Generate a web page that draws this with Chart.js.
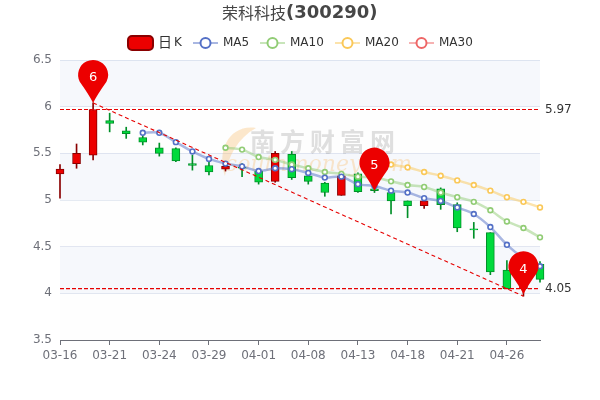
<!DOCTYPE html>
<html>
<head>
<meta charset="utf-8">
<script src="https://cdn.jsdelivr.net/npm/chart.js@4/dist/chart.umd.min.js"></script>
<style>
html, body { margin: 0; padding: 0; background: #fff; }
canvas { display: block; }
</style>
</head>
<body>
<canvas id="kChart" width="600" height="400"></canvas>
<script>
const dates = ['03-16','03-17','03-18','03-21','03-22','03-23','03-24','03-25','03-28','03-29',
    '03-30','03-31','04-01','04-06','04-07','04-08','04-11','04-12','04-13','04-14',
    '04-15','04-18','04-19','04-20','04-21','04-22','04-25','04-26','04-27','04-28']

const open  = [5.28,5.39,5.48,5.85,5.74,5.67,5.56,5.55,5.39,5.37,5.33,5.35,5.31,5.20,5.49,5.26,5.18,5.05,5.28,5.12,5.08,4.99,4.94,5.12,4.95,4.69,4.65,4.25,4.05,4.31]
const close = [5.33,5.50,5.97,5.82,5.71,5.62,5.50,5.42,5.37,5.30,5.36,5.34,5.19,5.50,5.24,5.20,5.08,5.26,5.09,5.10,4.99,4.94,4.99,4.95,4.70,4.68,4.23,4.05,4.25,4.15]
const high  = [5.38,5.60,6.04,5.93,5.78,5.69,5.61,5.56,5.48,5.42,5.40,5.39,5.32,5.52,5.52,5.30,5.19,5.28,5.29,5.16,5.10,4.99,5.01,5.13,4.97,4.76,4.65,4.35,4.30,4.34]
const low   = [5.02,5.34,5.43,5.73,5.66,5.59,5.47,5.41,5.32,5.27,5.31,5.25,5.17,5.19,5.22,5.17,5.04,5.05,5.08,5.08,4.85,4.81,4.91,4.90,4.66,4.59,4.20,4.05,3.97,4.12]

const ma5  = [null,null,null,null,null,5.72,5.72,5.62,5.52,5.44,5.39,5.36,5.31,5.34,5.33,5.29,5.24,5.25,5.17,5.15,5.10,5.08,5.02,4.99,4.92,4.85,4.71,4.52,4.38,4.29]
const ma10 = [null,null,null,null,null,null,null,null,null,null,5.56,5.54,5.46,5.43,5.38,5.34,5.30,5.28,5.25,5.24,5.20,5.16,5.14,5.08,5.03,4.98,4.89,4.77,4.70,4.60]
const ma20 = [null,null,null,null,null,null,null,null,null,null,null,null,null,null,null,null,null,null,null,5.43,5.38,5.35,5.30,5.26,5.21,5.16,5.10,5.03,4.98,4.92]
const ma30 = dates.map(() => null)

const yTicks = [3.5,4,4.5,5,5.5,6,6.5]
const maxLine = dates.map(() => 5.97)
const minLine = dates.map(() => 4.05)
const trendLine = dates.map((d, i) => i === 2 ? 6.04 : i === 28 ? 3.97 : null)

const pinIndex = [2,19,28]
const pinValue = [6.04,5.10,3.99]
const pinLabel = ['6','5','4']

const RED = '#ec0000', RED_DARK = '#8a0000'
const GREEN = '#00da3c', GREEN_DARK = '#008f28'
const MA_COLORS = { MA5: '#5470c6', MA10: '#91cc75', MA20: '#fac858', MA30: '#ee6666' }
const FONT = '"DejaVu Sans", sans-serif'

function isUp(i) { return close[i] >= open[i] }

function maDataset(label, data) {
    return {
        type: 'line', label, data, order: 3,
        borderColor: MA_COLORS[label] + '80',
        borderWidth: 2.5,
        tension: 0.3,
        pointRadius: 2.4,
        pointBorderWidth: 1.6,
        pointBackgroundColor: '#fff',
        pointBorderColor: MA_COLORS[label]
    }
}

function dashDataset(data, spanGaps, dash) {
    return {
        type: 'line', data, order: 2, spanGaps,
        borderColor: '#e60000', borderWidth: 1.1, borderDash: dash,
        pointRadius: 0, tension: 0
    }
}

// plot bands, watermark
const backdrop = {
    id: 'backdrop',
    beforeDatasetsDraw(chart) {
        const { ctx, chartArea: a, scales: { y } } = chart
        ctx.save()
        for (let i = 0; i < yTicks.length - 1; i++) {
            const top = y.getPixelForValue(yTicks[i + 1]), bottom = y.getPixelForValue(yTicks[i])
            ctx.fillStyle = i % 2 ? 'rgba(210,219,238,0.2)' : 'rgba(250,250,250,0.2)'
            ctx.fillRect(a.left, top, a.right - a.left, bottom - top)
        }

        // logo crescent
        ctx.fillStyle = 'rgba(250,190,110,0.35)'
        ctx.beginPath()
        ctx.moveTo(256, 128)
        ctx.bezierCurveTo(230, 124, 216, 150, 225, 176)
        ctx.bezierCurveTo(228, 156, 238, 138, 256, 128)
        ctx.fill()

        ctx.textBaseline = 'middle'
        ctx.textAlign = 'left'
        ctx.fillStyle = 'rgba(120,120,120,0.24)'
        ctx.font = 'bold 25px "Noto Sans CJK SC"'
        ctx.letterSpacing = '5px'
        ctx.fillText('南方财富网', 250, 141)
        ctx.letterSpacing = '0px'
        ctx.fillStyle = 'rgba(250,190,110,0.35)'
        ctx.font = 'italic 22px "DejaVu Serif", serif'
        ctx.fillText('southmoney.com', 226, 165)
        ctx.restore()
    }
}

// title, legend, mark point pins and line end labels
const overlay = {
    id: 'overlay',
    afterDraw(chart) {
        const { ctx, scales: { x, y } } = chart
        ctx.save()
        ctx.textBaseline = 'middle'

        ctx.fillStyle = '#464646'
        ctx.textAlign = 'left'
        ctx.font = '16px "Noto Sans CJK SC"'
        ctx.fillText('荣科科技', 222, 13)
        ctx.font = 'bold 18px ' + FONT
        ctx.fillText('(300290)', 286, 13)

        // legend
        ctx.fillStyle = RED
        ctx.strokeStyle = RED_DARK
        ctx.lineWidth = 2
        ctx.beginPath()
        ctx.roundRect(128, 36, 25, 14, 4)
        ctx.fill()
        ctx.stroke()
        ctx.fillStyle = '#333'
        ctx.font = '14px "Noto Sans CJK SC"'
        ctx.fillText('日', 158, 42)
        ctx.font = '12px ' + FONT
        ctx.fillText('K', 174, 43)
        const items = [['MA5', 193], ['MA10', 260], ['MA20', 335], ['MA30', 409]]
        items.forEach(([name, lx]) => {
            const c = MA_COLORS[name]
            ctx.strokeStyle = c + '80'
            ctx.lineWidth = 2
            ctx.beginPath()
            ctx.moveTo(lx, 43)
            ctx.lineTo(lx + 25, 43)
            ctx.stroke()
            ctx.strokeStyle = c
            ctx.fillStyle = '#fff'
            ctx.beginPath()
            ctx.arc(lx + 12.5, 43, 5, 0, Math.PI * 2)
            ctx.fill()
            ctx.stroke()
            ctx.fillStyle = '#333'
            ctx.fillText(name, lx + 30, 43)
        })

        // mark line labels
        ctx.fillStyle = '#333'
        ctx.font = '12px ' + FONT
        ctx.fillText('5.97', 545, y.getPixelForValue(5.97))
        ctx.fillText('4.05', 545, y.getPixelForValue(4.05))

        // pins
        pinIndex.forEach((idx, k) => {
            const px = x.getPixelForValue(idx), tip = y.getPixelForValue(pinValue[k])
            const r = 15, cy = tip - 28
            ctx.fillStyle = RED
            ctx.beginPath()
            ctx.arc(px, cy, r, Math.PI * 0.85, Math.PI * 0.15)
            ctx.quadraticCurveTo(px + 4, cy + 20, px, tip)
            ctx.quadraticCurveTo(px - 4, cy + 20, px - r * Math.cos(Math.PI * 0.15), cy + r * Math.sin(Math.PI * 0.15))
            ctx.fill()
            ctx.fillStyle = '#fff'
            ctx.textAlign = 'center'
            ctx.font = '13px ' + FONT
            ctx.fillText(pinLabel[k], px, cy + 3)
        })
        ctx.restore()
    }
}

new Chart(document.getElementById('kChart'), {
    type: 'bar',
    data: {
        labels: dates,
        datasets: [
            {
                label: 'wick', order: 6, grouped: false, clip: false,
                data: dates.map((d, i) => [low[i], high[i]]),
                barThickness: 1,
                backgroundColor: dates.map((d, i) => isUp(i) ? RED_DARK : GREEN_DARK)
            },
            {
                label: '日 K', order: 5, grouped: false, clip: false,
                data: dates.map((d, i) => [open[i], close[i]]),
                barThickness: 8,
                borderWidth: 1,
                borderSkipped: false,
                backgroundColor: dates.map((d, i) => isUp(i) ? RED : GREEN),
                borderColor: dates.map((d, i) => isUp(i) ? RED_DARK : GREEN_DARK)
            },
            maDataset('MA5', ma5),
            maDataset('MA10', ma10),
            maDataset('MA20', ma20),
            maDataset('MA30', ma30),
            dashDataset(maxLine, false, [4, 2]),
            dashDataset(minLine, false, [4, 2]),
            dashDataset(trendLine, true, [4, 3])
        ]
    },
    options: {
        responsive: false,
        animation: false,
        layout: { padding: { left: 0, right: 60, top: 60, bottom: 30 } },
        plugins: { legend: { display: false }, tooltip: { enabled: false } },
        scales: {
            x: {
                type: 'category',
                offset: false,
                afterFit: s => { s.height = 30 },
                afterBuildTicks: s => { s.ticks = s.ticks.filter((t, i) => i % 3 === 0) },
                grid: { offset: false, drawOnChartArea: false, drawTicks: true, tickLength: 5, color: '#6e7079' },
                border: { color: '#6e7079' },
                ticks: { autoSkip: false, maxRotation: 0, color: '#6e7079', padding: 4, font: { family: FONT, size: 12 } }
            },
            y: {
                min: 3.5,
                max: 6.5,
                afterFit: s => { s.width = 60 },
                grid: { color: '#e0e6f1', drawTicks: false },
                border: { display: false },
                ticks: { stepSize: 0.5, color: '#6e7079', padding: 8, font: { family: FONT, size: 12 }, callback: v => String(v) }
            }
        }
    },
    plugins: [backdrop, overlay]
})
</script>
</body>
</html>
